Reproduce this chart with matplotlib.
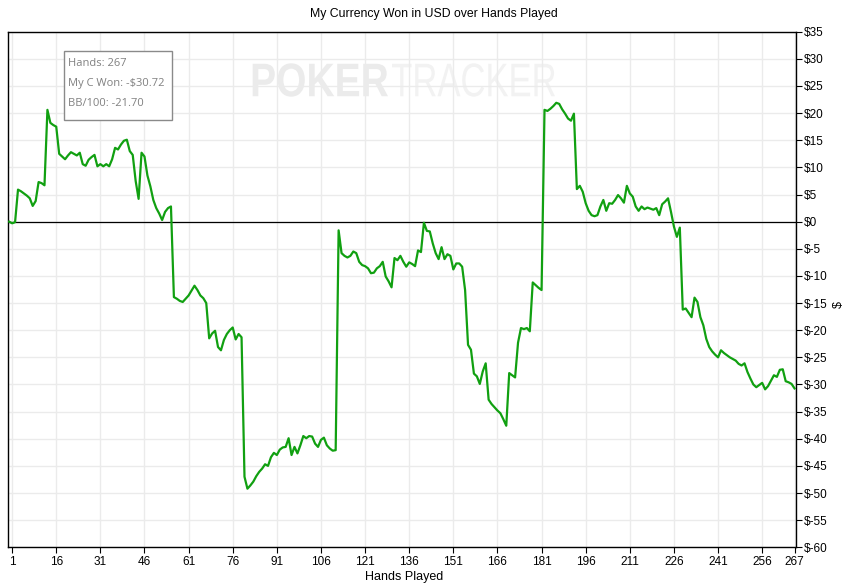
import numpy as np
import matplotlib
matplotlib.use("Agg")
import matplotlib.pyplot as plt
from matplotlib.textpath import TextPath
from matplotlib.patches import PathPatch
from matplotlib.font_manager import FontProperties
from matplotlib.transforms import Affine2D, IdentityTransform

# running total won (USD) after each hand, hand 0 = start
won = [
    0.0, -0.3, -0.1, 5.9, 5.6, 5.2, 4.8, 4.3, 2.9, 3.8,
    7.3, 7.1, 6.7, 20.6, 18.2, 17.8, 17.5, 12.5, 12.0, 11.5,
    12.2, 12.8, 12.5, 12.2, 12.7, 10.6, 10.3, 11.4, 11.9, 12.3,
    10.2, 10.6, 10.2, 10.6, 10.2, 11.5, 13.6, 13.3, 14.2, 14.9,
    15.1, 13.0, 12.3, 7.5, 4.2, 12.7, 12.0, 8.5, 6.5, 4.0,
    2.5, 1.5, 0.3, 1.8, 2.5, 2.8, -13.9, -14.2, -14.6, -14.8,
    -14.2, -13.6, -12.7, -11.8, -12.6, -13.6, -14.1, -15.0, -21.5, -20.6,
    -20.1, -23.1, -23.7, -21.8, -20.7, -20.0, -19.5, -21.7, -20.7, -21.3,
    -47.0, -49.2, -48.6, -47.9, -46.9, -46.1, -45.5, -44.7, -45.0, -43.4,
    -42.6, -43.0, -42.0, -41.6, -41.5, -39.9, -43.0, -41.5, -42.7, -41.2,
    -39.5, -39.9, -39.5, -39.6, -40.9, -41.5, -40.2, -39.8, -41.2, -41.8,
    -42.2, -42.1, -1.6, -5.8, -6.3, -6.6, -6.3, -5.5, -5.8, -7.4,
    -8.0, -8.2, -8.6, -9.5, -9.4, -8.6, -8.2, -7.4, -10.1, -11.0,
    -12.1, -6.7, -7.1, -6.3, -7.4, -8.3, -7.5, -7.8, -8.2, -5.3,
    -5.6, -0.2, -1.7, -1.8, -4.0, -5.8, -6.9, -4.7, -6.9, -6.0,
    -6.3, -8.8, -7.7, -7.7, -8.3, -12.6, -22.7, -23.6, -28.0, -28.5,
    -29.9, -27.6, -26.1, -32.8, -33.6, -34.2, -34.8, -35.3, -36.4, -37.6,
    -27.9, -28.3, -28.7, -22.3, -19.6, -19.8, -19.6, -20.2, -11.2, -11.7,
    -12.2, -12.6, 20.6, 20.4, 20.8, 21.3, 21.9, 21.7, 20.7, 19.9,
    19.0, 18.6, 19.9, 6.0, 6.6, 5.5, 3.4, 2.0, 1.2, 1.0,
    1.2, 2.8, 4.0, 2.0, 3.4, 3.3, 4.0, 4.9, 4.3, 3.5,
    6.6, 5.2, 4.6, 2.8, 2.0, 2.8, 2.3, 2.6, 2.4, 2.2,
    2.5, 1.2, 3.2, 3.7, 4.3, 1.8, -0.9, -2.8, -1.1, -16.2,
    -16.0, -16.8, -17.6, -14.0, -14.8, -17.6, -19.1, -21.6, -23.1, -23.9,
    -24.5, -25.0, -23.7, -24.2, -24.6, -25.0, -25.3, -25.6, -26.2, -26.5,
    -26.1, -27.7, -28.9, -30.0, -30.5, -30.1, -29.7, -30.9, -30.3, -29.3,
    -28.3, -28.6, -27.3, -27.2, -29.4, -29.6, -29.9, -30.72,
]
hands = np.arange(len(won))

x_ticks = [1, 16, 31, 46, 61, 76, 91, 106, 121, 136, 151, 166, 181, 196, 211, 226, 241, 256, 267]
y_ticks = list(range(-60, 40, 5))
title = "My Currency Won in USD over Hands Played"
tip_lines = ["Hands: 267", "My C Won: -$30.72", "BB/100: -21.70"]

font = ["Liberation Sans", "DejaVu Sans"]
W, H = 863, 587

fig = plt.figure(figsize=(W / 100, H / 100), dpi=100)
ax = fig.add_axes([8.3 / W, 39.7 / H, (795.7 - 8.3) / W, (547.3 - 31.7) / H])

ax.plot(hands, won, color="#11a011", lw=1.6, zorder=3)
ax.axhline(0, color="black", lw=0.9, zorder=2)

ax.set_xlim(-0.3, 267.4)
ax.set_ylim(-60, 35)
ax.set_xticks(x_ticks)
ax.set_yticks(y_ticks)
ax.set_yticklabels(["$" + str(v) for v in y_ticks])
ax.yaxis.tick_right()
ax.tick_params(length=4, width=0.8, pad=2, labelsize=8.5)
for lab in ax.get_xticklabels() + ax.get_yticklabels():
    lab.set_family(font)
ax.grid(True, color="#ebebeb", lw=1)
for s in ax.spines.values():
    s.set_linewidth(1)


# watermark, squeezed into the pixel box it takes in the picture
def stamp(word, weight, x0, x1, top, bottom, color):
    tp = TextPath((0, 0), word, size=40, prop=FontProperties(family=font, weight=weight))
    ext = tp.get_extents()
    sx = (x1 - x0) / ext.width
    sy = (bottom - top) / ext.height
    tr = Affine2D().translate(-ext.x0, -ext.y0).scale(sx, sy).translate(x0, H - bottom)
    ax.add_patch(PathPatch(tr.transform_path(tp), transform=IdentityTransform(),
                           facecolor=color, edgecolor="none", zorder=0.2, clip_on=False))


stamp("POKER", "bold", 252.7, 388, 63.3, 96.7, "#ebebeb")
stamp("TRACKER", "normal", 392, 555, 63.3, 96.7, "#f2f2f2")

fig.text(434 / W, 1 - 14 / H, title, ha="center", va="center", fontsize=8.8, family=font)
fig.text(404 / W, 1 - 577 / H, "Hands Played", ha="center", va="center", fontsize=9, family=font)
fig.text(839 / W, 1 - 304 / H, "$", ha="center", va="center", fontsize=9, rotation=90, family=font)

# tooltip box
fig.patches.append(plt.Rectangle((63.5 / W, 1 - 120 / H), 108 / W, 68.5 / H, transform=fig.transFigure,
                                 facecolor="white", edgecolor="#8a8a8a", lw=1, zorder=5))
for i, line in enumerate(tip_lines):
    fig.text(68 / W, 1 - (63.5 + 20 * i) / H, line, ha="left", va="center", fontsize=8,
             family=["Open Sans", "DejaVu Sans"], color="#808080", zorder=6)

fig.savefig("out.png", dpi=100)
